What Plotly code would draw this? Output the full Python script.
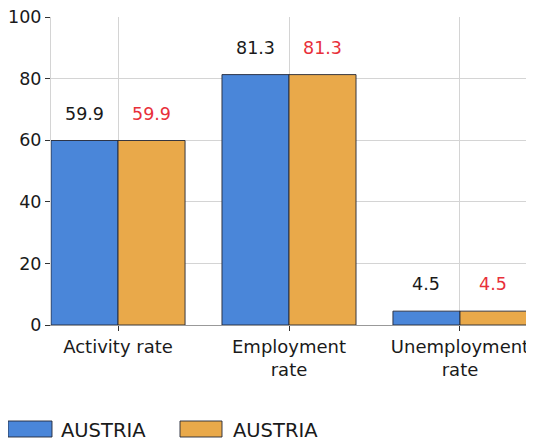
import plotly.graph_objects as go

categories = ["Activity rate", "Employment<br>rate", "Unemployment<br>rate"]
series_names = ["AUSTRIA", "AUSTRIA"]
values_a = [59.9, 81.3, 4.5]
values_b = [59.9, 81.3, 4.5]
y_ticks = [0, 20, 40, 60, 80, 100]

colors = ["#4a86d9", "#e9a94a"]
label_colors = ["#1a1a1a", "#e8303a"]
FONT = "DejaVu Sans, Verdana, sans-serif"

# page has an 8px body margin; work in page pixels and convert
OFF = 8
W, H = 534 - OFF, 444 - OFF
L, R, T, B = 51 - OFF, 7, 17 - OFF, 119
pw, ph = W - L - R, H - T - B

fig = go.Figure()
for name, vals, col in zip(series_names, [values_a, values_b], colors):
    fig.add_trace(go.Bar(
        x=categories, y=vals, name=name,
        marker=dict(color=col, line=dict(color="rgba(35,40,55,0.9)", width=1)),
        showlegend=False, hoverinfo="skip", cliponaxis=False))

ann = []
for i, (vals, lc) in enumerate(zip([values_a, values_b], label_colors)):
    shift = -33.5 if i == 0 else 33.5
    for c, v in zip(categories, vals):
        ann.append(dict(x=c, y=v, xref="x", yref="y", text=f"{v:.1f}", showarrow=False,
                        xshift=shift, yshift=27, yanchor="middle",
                        font=dict(size=17.5, color=lc, family=FONT)))

# custom legend (page pixel coordinates)
shapes = []
def px_x(p):
    return (p - OFF - L) / pw
def px_y(p):
    return (H - B - (p - OFF)) / ph
legend_items = [(8, 52, 59), (180, 222, 231)]
for (x0, x1, tx), name, col in zip(legend_items, series_names, colors):
    shapes.append(dict(type="rect", xref="paper", yref="paper",
                       x0=px_x(x0), x1=px_x(x1), y0=px_y(437), y1=px_y(421),
                       fillcolor=col, line=dict(color="rgba(35,40,55,0.9)", width=1)))
    ann.append(dict(x=px_x(tx), y=px_y(430), xref="paper", yref="paper", text=name,
                    showarrow=False, xanchor="left", yanchor="middle",
                    font=dict(size=19.5, color="#1a1a1a", family=FONT)))

fig.update_layout(
    width=W, height=H,
    margin=dict(l=L, r=R, t=T, b=B, pad=0, autoexpand=False),
    paper_bgcolor="white", plot_bgcolor="white",
    barmode="group", bargap=0.216, bargroupgap=0,
    font=dict(family=FONT, size=18, color="#1a1a1a"),
    annotations=ann, shapes=shapes,
    xaxis=dict(range=[-0.392, 2.392], showgrid=True, gridcolor="#d4d4d4",
               ticks="outside", ticklen=5, tickcolor="#333", automargin=False,
               showline=True, linecolor="#999", tickfont=dict(size=18),
               ticklabeloverflow="allow"),
    yaxis=dict(range=[0, 100], tickvals=y_ticks, showgrid=True, gridcolor="#d4d4d4",
               ticks="outside", ticklen=5, tickcolor="#333", zeroline=False,
               automargin=False,
               showline=True, linecolor="#d4d4d4", tickfont=dict(size=17.5),
               ticklabeloverflow="allow"),
)
fig.write_html("out.html")
